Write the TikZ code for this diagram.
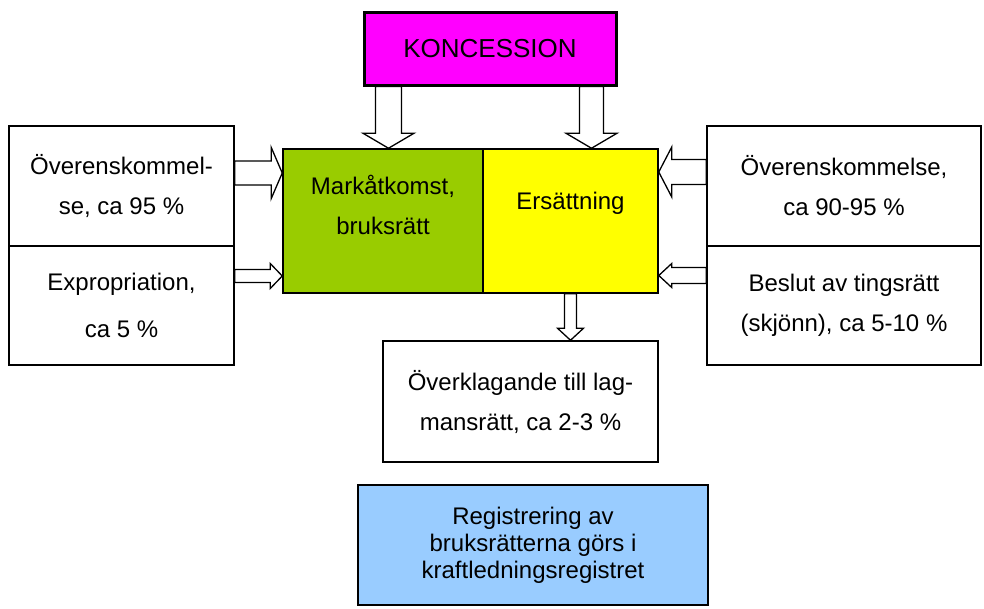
\documentclass[tikz,border=0pt]{standalone}
\usepackage{fontspec}
\setmainfont{Liberation Sans}
\usetikzlibrary{calc}

\definecolor{koncmagenta}{HTML}{FF00FF}
\definecolor{markgreen}{HTML}{99CC00}
\definecolor{ersyellow}{HTML}{FFFF00}
\definecolor{regblue}{HTML}{99CCFF}

\tikzset{
  box/.style={draw, line width=1.5pt, rectangle, align=center, inner sep=0pt,
    font=\fontsize{24}{40}\selectfont},
  % freccia vuota: mezza larghezza asta / mezza larghezza punta / lunghezza punta
  hollow/.style args={#1/#2/#3}{draw, fill=white, line width=1.3pt, line join=miter,
    to path={let \p1=(\tikztostart), \p2=(\tikztotarget),
      \n1={atan2(\y2-\y1,\x2-\x1)}, \n2={veclen(\x2-\x1,\y2-\y1)} in
      ([shift={(\p1)},rotate=\n1]0pt,#1pt)
      -- ([shift={(\p1)},rotate=\n1]\n2*1pt-#3pt,#1pt)
      -- ([shift={(\p1)},rotate=\n1]\n2*1pt-#3pt,#2pt)
      -- ([shift={(\p1)},rotate=\n1]\n2*1pt,0pt)
      -- ([shift={(\p1)},rotate=\n1]\n2*1pt-#3pt,-#2pt)
      -- ([shift={(\p1)},rotate=\n1]\n2*1pt-#3pt,-#1pt)
      -- ([shift={(\p1)},rotate=\n1]0pt,-#1pt) -- cycle}}
}

\begin{document}
\begin{tikzpicture}[x=1pt, y=-1pt]
        \useasboundingbox (0,0) rectangle (984,608);

        % Concessione
        \node[box, line width=3pt, fill=koncmagenta, minimum width=252, minimum height=73,
          font=\fontsize{26}{30}\selectfont] at (490, 48.5) (kon) {KONCESSION};

        % Blocco centrale
        \node[box, fill=markgreen, minimum width=200, minimum height=144] at (383, 221) (mark)
          {Markåtkomst,\\bruksrätt\\[-7pt]\mbox{}};
        \node[box, fill=ersyellow, minimum width=175, minimum height=144] at (570.5, 221) (ers)
          {Ersättning\\\mbox{}};

        % Riquadri a sinistra
        \node[box, minimum width=225, minimum height=120] at (121.5, 186) (overensL)
          {Överenskommel-\\se, ca 95 \%};
        \node[box, minimum width=225, minimum height=119] at (121.5, 305.5) (exprop)
          {Expropriation,\\[7pt]ca 5 \%};

        % Riquadri a destra
        \node[box, minimum width=274, minimum height=120] at (844, 186) (overensR)
          {Överenskommelse,\\ca 90-95 \%};
        \node[box, minimum width=274, minimum height=119] at (844, 305.5) (beslut)
          {Beslut av tingsrätt\\(skjönn), ca 5-10 \%};

        % Overklagande
        \node[box, minimum width=275, minimum height=121] at (520.5, 401.5) (overkl)
          {Överklagande till lag-\\mansrätt, ca 2-3 \%};

        % Registrering
        \node[box, fill=regblue, minimum width=350, minimum height=120,
          font=\fontsize{24}{27}\selectfont] at (533, 545) (reg)
          {Registrering av\\bruksrätterna görs i\\kraftledningsregistret};

        % Frecce
        \draw[hollow=13/25.5/15] ([xshift=26pt]kon.south west) to ([xshift=26pt]kon.south west |- mark.north);
        \draw[hollow=12/25.5/15] ([xshift=-26pt]kon.south east) to ([xshift=-26pt]kon.south east |- ers.north);
        \draw[hollow=12/25.5/11] ([yshift=13pt]overensL.east) to ([yshift=13pt]overensL.east -| mark.west);
        \draw[hollow=6.5/12.5/12] ([yshift=29.5pt]exprop.east) to ([yshift=29.5pt]exprop.east -| mark.west);
        \draw[hollow=12.5/25/13] ([yshift=14pt]overensR.west) to ([yshift=14pt]overensR.west -| ers.east);
        \draw[hollow=8/12/13] ([yshift=30pt]beslut.west) to ([yshift=30pt]beslut.west -| ers.east);
        \draw[hollow=6/13/12] (ers.south) to (ers.south |- overkl.north);
    \end{tikzpicture}
\end{document}
